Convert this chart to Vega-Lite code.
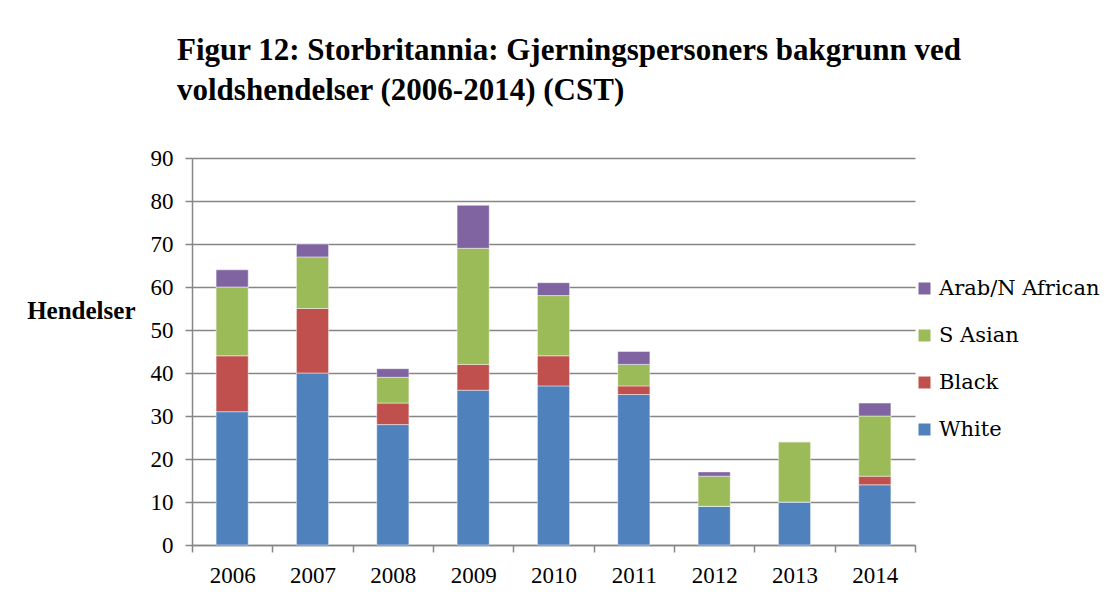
{
  "$schema": "https://vega.github.io/schema/vega-lite/v6.json",
  "width": 723,
  "height": 387,
  "autosize": {"type": "none"},
  "padding": {"left": 192, "top": 158, "right": 195, "bottom": 52},
  "background": "white",
  "title": {
    "text": ["Figur 12: Storbritannia: Gjerningspersoners bakgrunn ved", "voldshendelser (2006-2014) (CST)"],
    "anchor": "start",
    "frame": "group",
    "dx": -15,
    "offset": 40,
    "font": "Liberation Serif",
    "fontSize": 31,
    "fontWeight": "bold",
    "color": "#000000",
    "lineHeight": 40
  },
  "data": {
    "values": [
      {"year": "2006", "group": "White", "value": 31},
      {"year": "2006", "group": "Black", "value": 13},
      {"year": "2006", "group": "S Asian", "value": 16},
      {"year": "2006", "group": "Arab/N African", "value": 4},
      {"year": "2007", "group": "White", "value": 40},
      {"year": "2007", "group": "Black", "value": 15},
      {"year": "2007", "group": "S Asian", "value": 12},
      {"year": "2007", "group": "Arab/N African", "value": 3},
      {"year": "2008", "group": "White", "value": 28},
      {"year": "2008", "group": "Black", "value": 5},
      {"year": "2008", "group": "S Asian", "value": 6},
      {"year": "2008", "group": "Arab/N African", "value": 2},
      {"year": "2009", "group": "White", "value": 36},
      {"year": "2009", "group": "Black", "value": 6},
      {"year": "2009", "group": "S Asian", "value": 27},
      {"year": "2009", "group": "Arab/N African", "value": 10},
      {"year": "2010", "group": "White", "value": 37},
      {"year": "2010", "group": "Black", "value": 7},
      {"year": "2010", "group": "S Asian", "value": 14},
      {"year": "2010", "group": "Arab/N African", "value": 3},
      {"year": "2011", "group": "White", "value": 35},
      {"year": "2011", "group": "Black", "value": 2},
      {"year": "2011", "group": "S Asian", "value": 5},
      {"year": "2011", "group": "Arab/N African", "value": 3},
      {"year": "2012", "group": "White", "value": 9},
      {"year": "2012", "group": "Black", "value": 0},
      {"year": "2012", "group": "S Asian", "value": 7},
      {"year": "2012", "group": "Arab/N African", "value": 1},
      {"year": "2013", "group": "White", "value": 10},
      {"year": "2013", "group": "Black", "value": 0},
      {"year": "2013", "group": "S Asian", "value": 14},
      {"year": "2013", "group": "Arab/N African", "value": 0},
      {"year": "2014", "group": "White", "value": 14},
      {"year": "2014", "group": "Black", "value": 2},
      {"year": "2014", "group": "S Asian", "value": 14},
      {"year": "2014", "group": "Arab/N African", "value": 3}
    ]
  },
  "transform": [
    {"calculate": "indexof(['White','Black','S Asian','Arab/N African'], datum.group)", "as": "stackOrder"}
  ],
  "mark": {"type": "bar", "width": {"band": 0.4}, "stroke": "#ffffff", "strokeWidth": 0.75, "strokeOpacity": 0.6},
  "encoding": {
    "x": {
      "field": "year",
      "type": "ordinal",
      "scale": {"paddingInner": 0, "paddingOuter": 0},
      "axis": {
        "title": null,
        "labelAngle": 0,
        "tickBand": "extent",
        "tickSize": 7,
        "tickColor": "#868686",
        "tickWidth": 1.5,
        "domainColor": "#868686",
        "domainWidth": 1.5,
        "labelFont": "Liberation Serif",
        "labelFontSize": 23,
        "labelColor": "#000000",
        "labelPadding": 12
      }
    },
    "y": {
      "field": "value",
      "type": "quantitative",
      "stack": "zero",
      "scale": {"domain": [0, 90], "nice": false},
      "axis": {
        "values": [0, 10, 20, 30, 40, 50, 60, 70, 80, 90],
        "title": "Hendelser",
        "titleAngle": 0,
        "titleAlign": "right",
        "titleBaseline": "middle",
        "titleX": -57,
        "titleY": 152,
        "titleFont": "Liberation Serif",
        "titleFontSize": 25,
        "titleFontWeight": "bold",
        "titleColor": "#000000",
        "grid": true,
        "gridColor": "#868686",
        "gridWidth": 1.5,
        "tickSize": 7,
        "tickColor": "#868686",
        "tickWidth": 1.5,
        "domainColor": "#868686",
        "domainWidth": 1.5,
        "labelFont": "Liberation Serif",
        "labelFontSize": 23,
        "labelColor": "#000000",
        "labelPadding": 12
      }
    },
    "color": {
      "field": "group",
      "type": "nominal",
      "scale": {
        "domain": ["Arab/N African", "S Asian", "Black", "White"],
        "range": ["#8064A2", "#9BBB59", "#C0504D", "#4F81BD"]
      },
      "legend": {
        "title": null,
        "orient": "none",
        "legendX": 722,
        "legendY": 120,
        "symbolType": "square",
        "symbolSize": 144,
        "symbolStrokeWidth": 0,
        "labelFont": "DejaVu Serif",
        "labelFontSize": 21,
        "labelColor": "#000000",
        "labelOffset": 4,
        "labelLimit": 300,
        "rowPadding": 25,
        "padding": 0
      }
    },
    "order": {"field": "stackOrder", "type": "quantitative", "sort": "ascending"}
  },
  "config": {
    "font": "Liberation Serif",
    "view": {"stroke": null}
  }
}
